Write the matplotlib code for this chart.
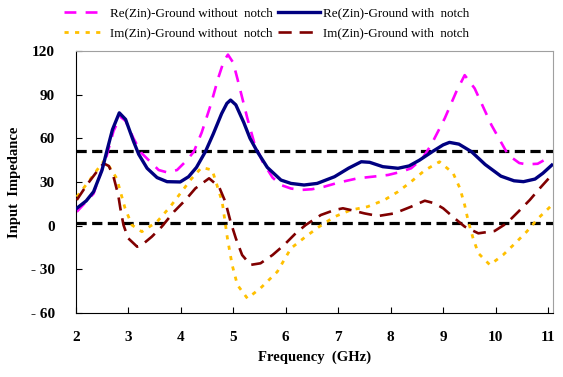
import numpy as np
import matplotlib.pyplot as plt

# Frequency (GHz) / impedance readings for each curve
re_off_f = [2.02, 2.34, 2.59, 2.72, 2.85, 2.95, 3.1, 3.25, 3.42, 3.58, 3.75, 3.93, 4.12, 4.25, 4.4, 4.57, 4.72,
            4.82, 4.9, 5.0, 5.08, 5.27, 5.4, 5.56, 5.75, 5.91, 6.1, 6.29, 6.5, 6.73, 7.0, 7.37, 7.7, 7.95, 8.2,
            8.39, 8.6, 8.77, 9.03, 9.25, 9.41, 9.6, 9.92, 10.24, 10.45, 10.59, 10.8, 11.04]
re_off_v = [9.5, 22, 48, 65, 74.8, 72, 60, 50, 43.9, 38.2, 36.5, 38.2, 45, 50.8, 64, 82.8, 102,
            113, 117.5, 112, 101, 73.7, 57, 43.9, 33, 27.9, 25.5, 24.5, 25, 26.7, 29.5, 32.5, 33.8, 34.8, 37,
            39.4, 46, 55.4, 73.7, 92, 103.4, 94.3, 69.1, 48.5, 43, 42.1, 42.5, 47.3]

re_on_f = [2.02, 2.2, 2.34, 2.5, 2.59, 2.7, 2.83, 2.95, 3.1, 3.2, 3.36, 3.55, 3.74, 3.99, 4.15, 4.3, 4.47, 4.62,
           4.78, 4.88, 4.95, 5.05, 5.2, 5.32, 5.46, 5.65, 5.91, 6.1, 6.35, 6.6, 6.93, 7.2, 7.44, 7.6, 7.85,
           8.14, 8.35, 8.55, 8.8, 9.0, 9.12, 9.3, 9.54, 9.8, 10.1, 10.35, 10.53, 10.75, 10.9, 11.07]
re_on_v = [11.9, 17, 23.3, 38, 50.8, 66, 77.5, 73, 58, 49, 39.4, 33, 30.2, 30, 33.6, 40, 50.8, 63,
           77, 84, 86.3, 83, 71, 60, 50.8, 40, 31.3, 29, 27.9, 29, 33.6, 39.5, 43.9, 43.5, 40.5,
           39.4, 41, 45, 51, 55.5, 57.2, 56, 50.8, 42, 34, 30.8, 30.2, 32, 36, 41.6]

im_off_f = [2.02, 2.24, 2.43, 2.55, 2.66, 2.78, 2.94, 3.07, 3.26, 3.55, 3.8, 3.99, 4.2, 4.4, 4.6, 4.79, 4.89,
            4.98, 5.08, 5.27, 5.52, 5.84, 6.1, 6.38, 6.64, 6.93, 7.24, 7.56, 7.88, 8.14, 8.39, 8.65, 8.93,
            9.19, 9.32, 9.41, 9.48, 9.57, 9.67, 9.89, 10.14, 10.37, 10.59, 10.81, 11.04]
im_off_v = [19.8, 30, 39.4, 45, 39.4, 32.5, 11.9, 0.4, -4.2, 2.7, 13, 22, 32, 40, 38.2, 16.4, -8.7,
            -27, -40.8, -50, -43, -31.7, -15.6, -7.6, -0.7, 6.1, 10.7, 13, 17.6, 23.3, 30.2, 38, 43.9,
            36, 25.6, 14.1, 2.7, -8.7, -19, -27, -20.2, -12.2, -4.2, 5, 13]

im_on_f = [2.02, 2.21, 2.4, 2.53, 2.63, 2.72, 2.81, 2.85, 2.91, 3.0, 3.17, 3.26, 3.45, 3.64, 3.87, 4.09, 4.28,
           4.54, 4.73, 4.85, 4.95, 5.05, 5.17, 5.33, 5.52, 5.75, 5.97, 6.19, 6.38, 6.67, 6.93, 7.09, 7.24,
           7.5, 7.76, 8.07, 8.39, 8.65, 8.84, 9.0, 9.22, 9.41, 9.67, 9.98, 10.21, 10.43, 10.65, 10.84, 11.04]
im_on_v = [17.6, 27.9, 37, 42.8, 41, 33.6, 21, 11.9, 0.4, -8.7, -14.5, -13.3, -7.6, -0.7, 9.5, 17.6, 25.6,
           32.5, 26.7, 16.4, 2.7, -8.7, -20.2, -27, -25.9, -20.2, -13.3, -5.3, 0.4, 7.3, 10.7, 11.9, 10.7,
           8.4, 6.6, 8.4, 13, 17.1, 15.3, 11.9, 5, -0.7, -5.3, -3.7, 1.6, 9.5, 17.6, 25.6, 33.6]

ref_levels = [51, 1.5]
x_ticks = list(range(2, 12))
y_ticks = [-60, -30, 0, 30, 60, 90, 120]

plt.rcParams['font.family'] = ['Liberation Serif', 'DejaVu Serif']
plt.rcParams['axes.unicode_minus'] = False

fig = plt.figure(figsize=(5.63, 3.77), dpi=100)
ax = fig.add_axes([0.1345, 0.17, 0.8475, 0.6947])

for lev in ref_levels:
    ax.axhline(lev, color='black', lw=2.3, dashes=(3.2, 1.7), zorder=1)

ax.plot(re_off_f, re_off_v, color='#ff00ff', lw=1.9, dashes=(4.5, 3.5),
        label='Re(Zin)-Ground without  notch', zorder=2)
ax.plot(re_on_f, re_on_v, color='#000080', lw=2.4,
        label='Re(Zin)-Ground with  notch', zorder=4)
ax.plot(im_off_f, im_off_v, color='#ffc000', lw=2.0, dashes=(1.5, 2.3),
        label='Im(Zin)-Ground without  notch', zorder=3)
ax.plot(im_on_f, im_on_v, color='#800000', lw=1.9, dashes=(5, 3),
        label='Im(Zin)-Ground with  notch', zorder=3)

ax.set_xlim(2, 11.09)
ax.set_ylim(-60, 120)
ax.set_xticks(x_ticks)
ax.set_yticks(y_ticks)
ax.set_yticklabels(['- 60', '- 30', '0', '30', '60', '90', '120'])
ax.tick_params(direction='in', length=4, width=0.8, labelsize=11)
ax.tick_params(axis='x', pad=13)
ax.tick_params(axis='y', pad=15)
for lab in ax.get_xticklabels() + ax.get_yticklabels():
    lab.set_fontweight('bold')
ax.spines['top'].set_color('#a0a0a0')
ax.spines['right'].set_color('#a0a0a0')
ax.set_xlabel('Frequency  (GHz)', fontsize=10.5, fontweight='bold', labelpad=5)
ax.set_ylabel('Input  Impedance', fontsize=10.5, fontweight='bold', labelpad=7)

h, l = ax.get_legend_handles_labels()
order = [0, 2, 1, 3]
fig.legend([h[i] for i in order], [l[i] for i in order], loc='upper left',
           bbox_to_anchor=(0.093, 1.012), ncol=2, frameon=False, fontsize=9.4,
           handlelength=3.2, handletextpad=0.3, columnspacing=0.4, labelspacing=0.6)

fig.savefig('out.png', dpi=100)
